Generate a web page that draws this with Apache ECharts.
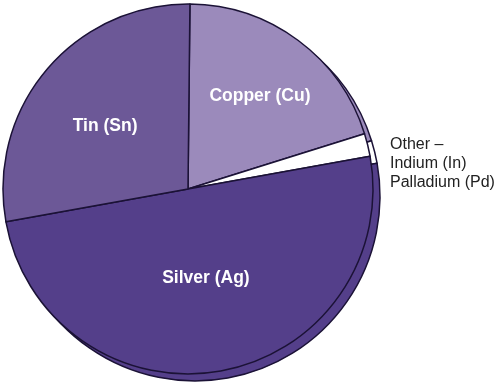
<!DOCTYPE html>
<html>
<head>
<meta charset="utf-8">
<script src="https://cdn.jsdelivr.net/npm/echarts@6/dist/echarts.min.js"></script>
<style>html,body{margin:0;padding:0;background:#fff;}#c{width:498px;height:386px;}</style>
</head>
<body>
<div id="c"></div>
<script>
// Data (clockwise from top)
const categories = ['Copper (Cu)', 'Other –\nIndium (In)\nPalladium (Pd)', 'Silver (Ag)', 'Tin (Sn)'];
const values = [20, 2, 50, 28];
const colors = ['#9b8abb', '#ffffff', '#543f8a', '#6c5897'];

const labelOffsets = [[15, -16], [0, 0], [1, -5], [-10, -1]];

const chart = echarts.init(document.getElementById('c'), null, {renderer: 'canvas'});
const startAngle = 89.4;
const border = {borderColor: '#1b1236', borderWidth: 1.5};

function buildData(withLabels) {
  return categories.map((name, i) => {
    const d = {name: name, value: values[i], itemStyle: Object.assign({color: colors[i]}, border)};
    if (withLabels) {
      if (i === 1) {
        d.label = {
          show: true, position: 'outside', color: '#222', fontSize: 16, lineHeight: 19,
          fontWeight: 'normal', fontFamily: 'Liberation Sans, Arial, sans-serif', align: 'left',
          overflow: 'none', alignTo: 'none', bleedMargin: 0
        };
        d.labelLine = {show: false};
      } else {
        d.label = {show: true, position: 'inside', offset: labelOffsets[i]};
      }
    } else {
      d.label = {show: false};
    }
    return d;
  });
}

chart.setOption({
  backgroundColor: '#fff',
  animation: false,
  series: [
    {
      type: 'pie', silent: true, z: 1,
      center: [195, 196], radius: 185, startAngle: startAngle, clockwise: true,
      label: {show: false}, labelLine: {show: false},
      data: buildData(false)
    },
    {
      type: 'pie', silent: true, z: 2,
      center: [188, 189], radius: 185, startAngle: startAngle, clockwise: true,
      label: {
        show: true, position: 'inside', color: '#ffffff', fontSize: 17.5, fontWeight: 'bold',
        fontFamily: 'Liberation Sans, Arial, sans-serif', formatter: '{b}', overflow: 'none'
      },
      labelLine: {show: false},
      labelLayout: function (params) {
        if (params.dataIndex === 1) {
          return {x: 390, y: 164, align: 'left', verticalAlign: 'middle'};
        }
        return {};
      },
      data: buildData(true)
    }
  ]
});
</script>
</body>
</html>
